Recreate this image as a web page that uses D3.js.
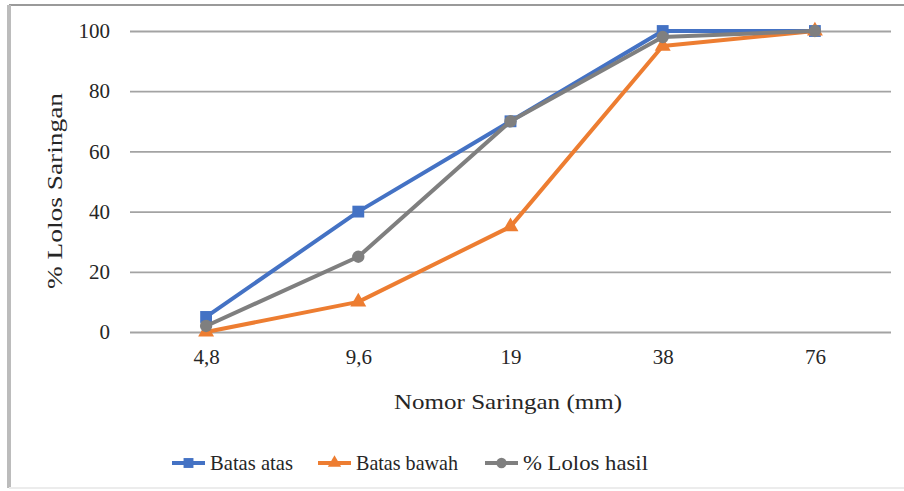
<!DOCTYPE html>
<html><head><meta charset="utf-8">
<script src="https://cdn.jsdelivr.net/npm/d3@7"></script>
<style>body{margin:0;background:#fff;} svg{display:block;} svg text{font-family:"Liberation Serif","Tinos","DejaVu Serif","Noto Serif",serif !important;}</style>
</head><body>
<svg id="c" width="904" height="491"></svg>
<script>
const categories = ["4,8", "9,6", "19", "38", "76"];
const batasAtas = [5, 40, 70, 100, 100];
const batasBawah = [0, 10, 35, 95, 100];
const lolosHasil = [2, 25, 70, 98, 100];
const yTicks = [0, 20, 40, 60, 80, 100];
const seriesNames = ["Batas atas", "Batas bawah", "% Lolos hasil"];

const svg = d3.select("#c");
const W = 904, H = 491;
const FONT = "'Liberation Serif', 'DejaVu Serif', serif";
const x = d3.scalePoint().domain(categories).range([130, 891]).padding(0.5);
const y = d3.scaleLinear().domain([0, 100]).range([332, 31]);

// frame
svg.append("line").attr("x1", 9).attr("x2", W).attr("y1", 5).attr("y2", 5).attr("stroke", "#9a9a9a").attr("stroke-width", 2);
svg.append("line").attr("x1", 9).attr("x2", 9).attr("y1", 5).attr("y2", 488).attr("stroke", "#bcbcbc").attr("stroke-width", 4);
svg.append("line").attr("x1", 9).attr("x2", W).attr("y1", 488).attr("y2", 488).attr("stroke", "#ececec").attr("stroke-width", 2);

// gridlines
const yAxis = d3.axisLeft(y).tickValues(yTicks).tickSize(-(891 - 130)).tickPadding(20).tickFormat(d3.format("d"));
const ga = svg.append("g").attr("transform", "translate(130,0)").call(yAxis).attr("font-family", FONT);
ga.select(".domain").remove();
ga.selectAll(".tick line").attr("stroke", "#a3a3a3").attr("stroke-width", 1.8);
ga.selectAll(".tick text").attr("font-size", 21).attr("fill", "#262626").attr("x", -20);

// x axis labels
const xAxis = d3.axisBottom(x).tickSize(0).tickPadding(20);
const gx = svg.append("g").attr("transform", "translate(0,332)").call(xAxis).attr("font-family", FONT);
gx.select(".domain").remove();
gx.selectAll(".tick text").attr("font-size", 21).attr("fill", "#262626").attr("dy", "0.55em");

// titles
svg.append("text").attr("x", 508).attr("y", 409).attr("text-anchor", "middle").attr("font-size", 21).attr("fill", "#262626")
  .attr("textLength", 228).attr("lengthAdjust", "spacingAndGlyphs").text("Nomor Saringan (mm)");
svg.append("text").attr("transform", "translate(62,191) rotate(-90)").attr("text-anchor", "middle").attr("font-size", 21).attr("fill", "#262626")
  .attr("textLength", 196).attr("lengthAdjust", "spacingAndGlyphs").text("% Lolos Saringan");

const colors = ["#4472C4", "#ED7D31", "#7F7F7F"];
const data = [batasAtas, batasBawah, lolosHasil];
const shapes = [d3.symbolSquare, d3.symbolTriangle, d3.symbolCircle];
const sizes = [140, 110, 120];
const line = d3.line().x((d, i) => x(categories[i])).y(d => y(d));

data.forEach((vals, s) => {
  svg.append("path").datum(vals).attr("d", line).attr("fill", "none").attr("stroke", colors[s]).attr("stroke-width", 4).attr("stroke-linejoin", "round");
  svg.selectAll(null).data(vals).enter().append("path")
    .attr("d", d3.symbol().type(shapes[s]).size(sizes[s]))
    .attr("transform", (d, i) => `translate(${x(categories[i])},${y(d)})`)
    .attr("fill", colors[s]);
});

// legend
const legX = [172, 318, 485];
const legLen = [83, 102, 125];
const ly = 463;
seriesNames.forEach((n, s) => {
  const g = svg.append("g");
  g.append("line").attr("x1", legX[s]).attr("x2", legX[s] + 33).attr("y1", ly).attr("y2", ly).attr("stroke", colors[s]).attr("stroke-width", 4);
  g.append("path").attr("d", d3.symbol().type(shapes[s]).size(sizes[s] * 0.7)).attr("transform", `translate(${legX[s] + 16.5},${ly})`).attr("fill", colors[s]);
  g.append("text").attr("x", legX[s] + 38).attr("y", ly + 7).attr("font-size", 21).attr("fill", "#262626")
    .attr("textLength", legLen[s]).attr("lengthAdjust", "spacingAndGlyphs").text(n);
});
</script>
</body></html>
